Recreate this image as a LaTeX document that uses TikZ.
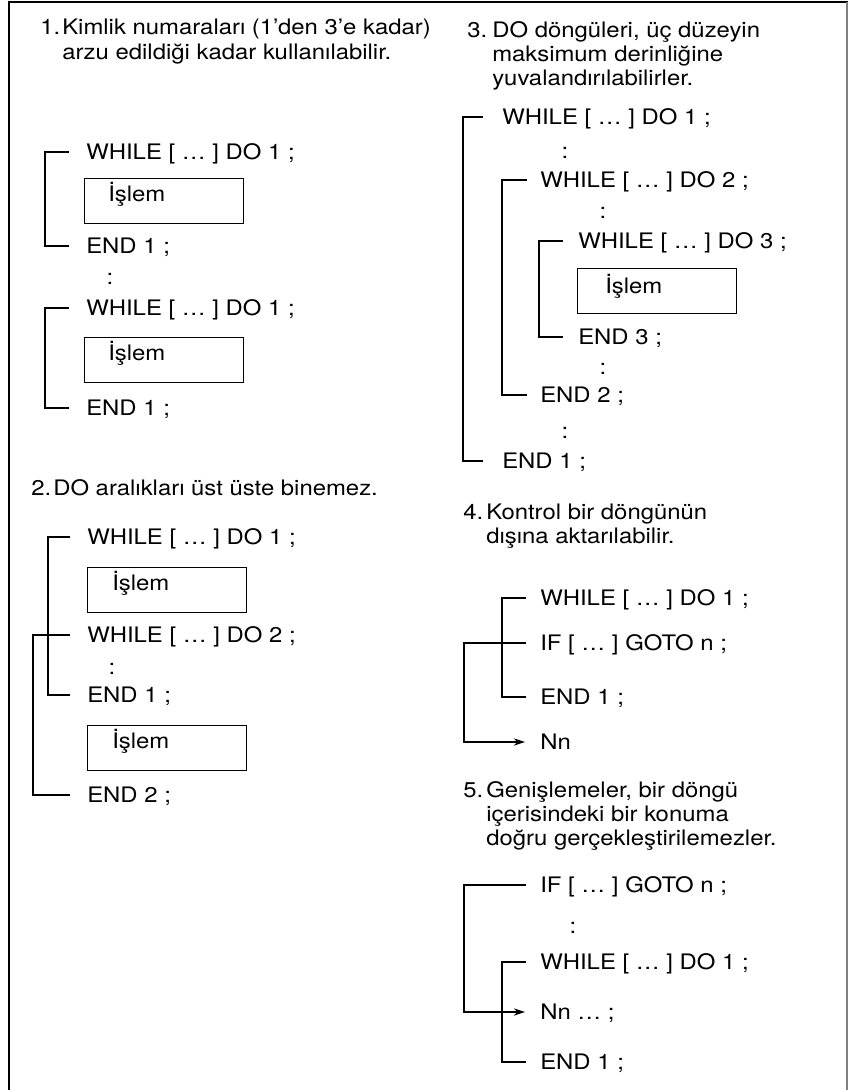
\documentclass[tikz,border=0pt]{standalone}
\usepackage{fontspec}
\setmainfont{TeX Gyre Heros}[FakeStretch=1.12]
\usetikzlibrary{arrows.meta}
\begin{document}
\begin{tikzpicture}[x=0.75pt,y=-0.75pt,
  txt/.style={anchor=west, inner sep=0pt, text height=11.5pt, text depth=0pt, font=\fontsize{16}{19}\selectfont},
  colon/.style={anchor=base, inner sep=0pt, font=\fontsize{16}{19}\selectfont},
  ln/.style={line width=0.8pt, black},
  procbox/.style={draw, line width=0.8pt, minimum width=119.25pt, minimum height=33.75pt, anchor=north west, inner sep=0pt},
  tip/.style={-{Stealth[length=8.5pt,width=5.5pt]}}
]
\useasboundingbox (0,0) rectangle (848,1090);
% frame
\draw[line width=1.8pt] (8,2) -- (848,2);
\draw[line width=1.8pt] (9,1.2) -- (9,1090);
\draw[gray, line width=0.9pt] (847,2) -- (847,1090);

% ---------- Section 1 ----------
\node[txt] (n1) at (40,27) {1.};
\node[txt] (h1a) at (62,27) {Kimlik numaraları (1’den 3’e kadar)};
\node[txt] (h1b) at (62,52) {arzu edildiği kadar kullanılabilir.};

\node[txt] (w11) at (86,152) {WHILE [ … ] DO 1 ;};
\node[procbox] (b11) at (84,178) {};
\node[txt] (p11) at ([xshift=18pt,yshift=-12pt]b11.north west) {İşlem};
\node[txt] (e11) at (86,246) {END 1 ;};
\draw[ln] (w11.west) ++(-17,0) -- ++(-24,0) |- ([xshift=-12.75pt]e11.west);
\node[colon] (c11) at (110,284) {:};

\node[txt] (w12) at (86,308) {WHILE [ … ] DO 1 ;};
\node[procbox] (b12) at (84,337) {};
\node[txt] (p12) at ([xshift=18pt,yshift=-12pt]b12.north west) {İşlem};
\node[txt] (e12) at (86,408) {END 1 ;};
\draw[ln] (w12.west) ++(-17,0) -- ++(-24,0) |- ([xshift=-12.75pt]e12.west);

% ---------- Section 2 ----------
\node[txt] (n2) at (31,488) {2.};
\node[txt] (h2) at (53,488) {DO aralıkları üst üste binemez.};

\node[txt] (w21) at (87,537) {WHILE [ … ] DO 1 ;};
\node[procbox] (b21) at (87,567) {};
\node[txt] (p21) at ([xshift=18.75pt,yshift=-12pt]b21.north west) {İşlem};
\node[txt] (w22) at (87,635) {WHILE [ … ] DO 2 ;};
\node[colon] (c21) at (112,674) {:};
\node[txt] (e21) at (87,695) {END 1 ;};
\node[procbox] (b22) at (87,725) {};
\node[txt] (p22) at ([xshift=18.75pt,yshift=-12pt]b22.north west) {İşlem};
\node[txt] (e22) at (87,795) {END 2 ;};
\draw[ln] (w21.west) ++(-17,0) -- ++(-22,0) |- ([xshift=-12.75pt]e21.west);
\draw[ln] (w22.west) ++(-17,0) -- ++(-37,0) |- ([xshift=-12.75pt]e22.west);

% ---------- Section 3 ----------
\node[txt] (n3) at (467,30) {3.};
\node[txt] (h3a) at (492,30) {DO döngüleri, üç düzeyin};
\node[txt] (h3b) at (492,54) {maksimum derinliğine};
\node[txt] (h3c) at (492,78) {yuvalandırılabilirler.};

\node[txt] (w31) at (502,117) {WHILE [ … ] DO 1 ;};
\node[colon] (c31) at (565,158) {:};
\node[txt] (w32) at (540,180) {WHILE [ … ] DO 2 ;};
\node[colon] (c32) at (603,218) {:};
\node[txt] (w33) at (578,241) {WHILE [ … ] DO 3 ;};
\node[procbox] (b3) at (577,268) {};
\node[txt] (p3) at ([xshift=21pt,yshift=-13.5pt]b3.north west) {İşlem};
\node[txt] (e33) at (578,337) {END 3 ;};
\node[colon] (c33) at (603,374) {:};
\node[txt] (e32) at (540,395) {END 2 ;};
\node[colon] (c34) at (565,438) {:};
\node[txt] (e31) at (502,461) {END 1 ;};
\draw[ln] (w31.west) ++(-19,0) -- ++(-20,0) |- ([xshift=-14.25pt]e31.west);
\draw[ln] (w32.west) ++(-13,0) -- ++(-25,0) |- ([xshift=-9.75pt]e32.west);
\draw[ln] (w33.west) ++(-15,0) -- ++(-24,0) |- ([xshift=-11.25pt]e33.west);

% ---------- Section 4 ----------
\node[txt] (n4) at (463,512) {4.};
\node[txt] (h4a) at (486,512) {Kontrol bir döngünün};
\node[txt] (h4b) at (486,536) {dışına aktarılabilir.};

\node[txt] (w4) at (540,598) {WHILE [ … ] DO 1 ;};
\node[txt] (if4) at (540,643) {IF [ … ] GOTO n ;};
\node[txt] (e4) at (540,697) {END 1 ;};
\node[txt] (nn4) at (540,742) {Nn};
\draw[ln] (w4.west) ++(-14,0) -- ++(-24,0) |- ([xshift=-10.5pt]e4.west);
\draw[ln,tip] (if4.west) ++(-14,0) -- ++(-62,0) |- ([xshift=-11.25pt]nn4.west);

% ---------- Section 5 ----------
\node[txt] (n5) at (463,790) {5.};
\node[txt] (h5a) at (486,790) {Genişlemeler, bir döngü};
\node[txt] (h5b) at (486,814) {içerisindeki bir konuma};
\node[txt] (h5c) at (486,838) {doğru gerçekleştirilemezler.};

\node[txt] (if5) at (540,885) {IF [ … ] GOTO n ;};
\node[colon] (c51) at (573,933) {:};
\node[txt] (w5) at (540,962) {WHILE [ … ] DO 1 ;};
\node[txt] (nn5) at (540,1012) {Nn … ;};
\node[txt] (e5) at (540,1062) {END 1 ;};
\draw[ln] (w5.west) ++(-14,0) -- ++(-24,0) |- ([xshift=-10.5pt]e5.west);
\draw[ln,tip] (if5.west) ++(-14,0) -- ++(-62,0) |- ([xshift=-11.25pt]nn5.west);
\end{tikzpicture}
\end{document}
